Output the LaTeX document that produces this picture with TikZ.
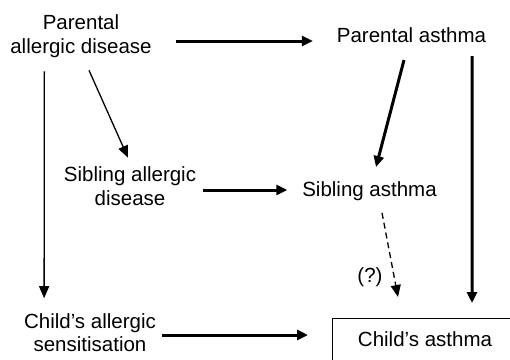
\documentclass[tikz,border=0pt]{standalone}
\usepackage{fontspec}
\setmainfont{Liberation Sans}
\usetikzlibrary{arrows.meta}
\tikzset{
  lbl/.style={inner sep=0pt, outer sep=0pt, align=center, font=\fontsize{20.5}{23.5}\selectfont},
  boxnode/.style={lbl, draw, line width=1pt, minimum width=186pt, minimum height=43pt},
  thickarr/.style={line width=3pt, -{Triangle[length=11pt,width=10pt]}},
  thinarr/.style={line width=1.3pt, -{Triangle[length=12pt,width=10pt]}},
  dasharr/.style={line width=1.3pt, dash pattern=on 6pt off 4pt, -{Triangle[length=12pt,width=10pt]}}
}
\begin{document}
\begin{tikzpicture}[x=1pt,y=-1pt]
\useasboundingbox (0,0) rectangle (510,359);
\clip (0,0) rectangle (510,359);
\fill[white] (0,0) rectangle (510,359);
\node[lbl] (pad) at (81,36) {Parental\\allergic disease};
\node[lbl] (pa) at (411.5,35.5) {Parental asthma};
\node[lbl] (sad) at (130,186) {Sibling allergic\\disease};
\node[lbl] (sa) at (369.5,191.6) {Sibling asthma};
\node[lbl] (cas) at (90,332.5) {Child’s allergic\\sensitisation};
\node[boxnode] (ca) at (425,339.5) {Child’s asthma};
\node[lbl] (q) at (370,277) {(?)};
% arrows
\draw[thickarr] ([xshift=24pt,yshift=-5pt]pad.east) -- ([xshift=-24pt,yshift=-5.5pt]pa.west);
\draw[thinarr] ([xshift=8pt,yshift=-13pt]pad.south) -- ([xshift=-2pt,yshift=9pt]sad.north);
\draw[thinarr] ([xshift=34pt,yshift=-14pt]pad.south west) -- ([xshift=20pt,yshift=15pt]cas.north west);
\draw[thickarr] ([xshift=-7.5pt,yshift=-17pt]pa.south) -- ([xshift=6.5pt,yshift=15pt]sa.north);
\draw[thickarr] ([xshift=-14pt,yshift=-13pt]pa.south east) -- ([xshift=47pt,yshift=15pt]ca.north);
\draw[thickarr] ([xshift=7pt,yshift=-4pt]sad.east) -- ([xshift=-15pt,yshift=1.6pt]sa.west);
\draw[dasharr] ([xshift=12.5pt,yshift=-11.7pt]sa.south) -- ([xshift=-27pt,yshift=21pt]ca.north);
\draw[thickarr] ([xshift=6pt,yshift=-2.5pt]cas.east) -- ([xshift=-24pt,yshift=4.5pt]ca.west);
\end{tikzpicture}
\end{document}
